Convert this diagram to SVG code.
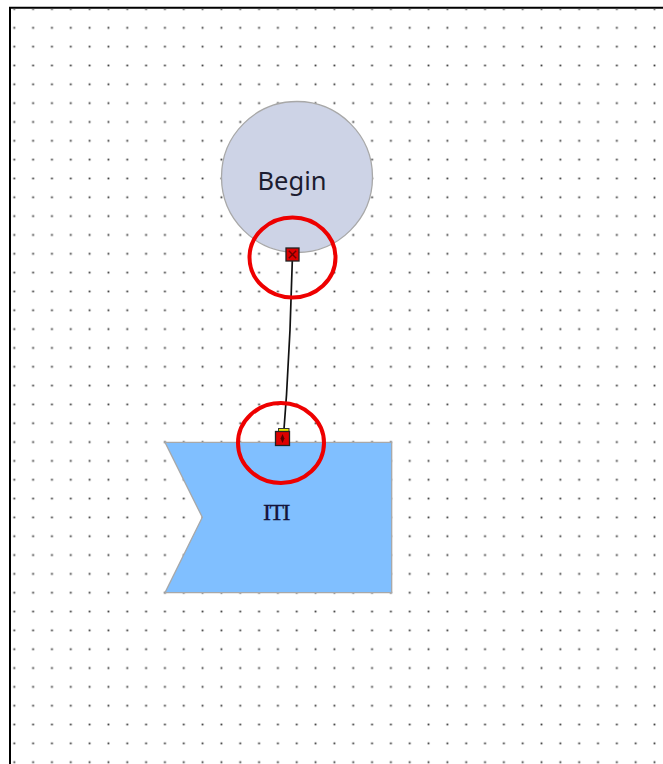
<svg xmlns="http://www.w3.org/2000/svg" width="663" height="764" viewBox="0 0 663 764">
  <defs>
    <pattern id="grid" patternUnits="userSpaceOnUse" x="4.885" y="-0.415" width="18.83" height="18.83">
      <rect x="8.5" y="8.5" width="1.8" height="1.8" fill="#3a3a3a"/>
    </pattern>
    <style>
      .shape { stroke: #a8a8a8; stroke-width: 1.3; }
      .label { font-family: "Noto Sans", "Open Sans", "DejaVu Sans", sans-serif; fill: #1c1c30; text-anchor: middle; }
      .serif { font-family: "Liberation Serif", "DejaVu Serif", serif; fill: #14143a; text-anchor: middle; }
      .conn { fill: none; stroke: #111; stroke-width: 1.7; }
      .mark { fill: none; stroke: #ee0000; stroke-width: 4; }
      .handle { fill: #dd0000; stroke: #222; stroke-width: 1.3; }
    </style>
  </defs>
  <rect width="663" height="764" fill="#ffffff"/>
  <rect x="11" y="9" width="652" height="755" fill="url(#grid)"/>
  <path d="M10 764 V7.7 H663" fill="none" stroke="#000" stroke-width="2"/>

  <g id="node-begin">
    <circle class="shape" cx="297" cy="177" r="75.5" fill="#cdd3e6"/>
    <text class="label" x="292" y="189.5" font-size="25.5">Begin</text>
  </g>

  <g id="node-iti">
    <polygon class="shape" points="165,442.3 391.7,442.3 391.7,592.7 165,592.7 202.3,517.3" fill="#80bfff"/>
    <text class="serif" x="276" y="520" font-size="24" letter-spacing="-1.5" stroke="#14143a" stroke-width="0.3">ITI</text>
  </g>

  <g id="connectors">
    <path class="conn" d="M292.3 261 L290 330 L286.5 395 L284 429"/>
    <g id="handle-source">
      <rect class="handle" x="286" y="248" width="13" height="13"/>
      <path d="M288.8 250.8 L296.2 258.2 M296.2 250.8 L288.8 258.2" stroke="#6a0000" stroke-width="1.4"/>
    </g>
    <g id="handle-target">
      <rect x="278.5" y="428.5" width="10.5" height="3.5" fill="#e6e600" stroke="#333" stroke-width="1"/>
      <rect class="handle" x="275.5" y="431.5" width="14" height="14"/>
      <path d="M282.5 434 L284.5 438.5 L282.5 443 L280.5 438.5 Z" fill="#5a0000"/>
    </g>
  </g>

  <g id="annotations">
    <ellipse class="mark" cx="292.5" cy="257.5" rx="43" ry="40"/>
    <ellipse class="mark" cx="281" cy="443" rx="43" ry="40"/>
  </g>
</svg>
